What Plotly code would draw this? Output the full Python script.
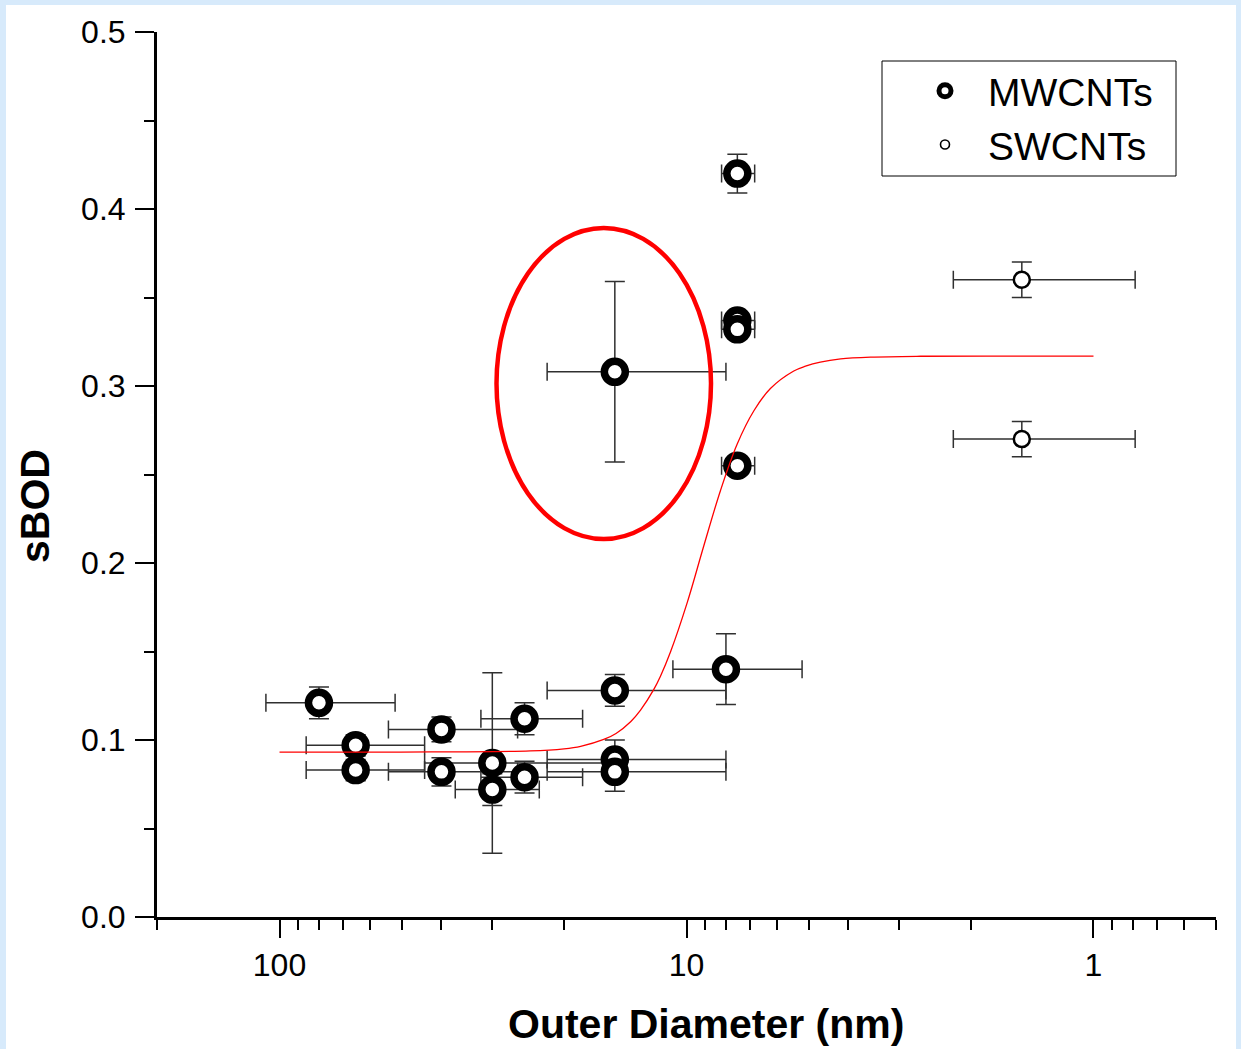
import math
import plotly.graph_objects as go

# ---------------- data ----------------
mw_diam = [80, 65, 65, 40, 40, 30, 30, 25, 25, 15, 15, 15, 15, 8, 7.5, 7.5, 7.5, 7.5]
mw_sbod = [0.121, 0.097, 0.083, 0.106, 0.082, 0.087, 0.072, 0.112, 0.079,
           0.308, 0.128, 0.089, 0.082, 0.140, 0.420, 0.337, 0.332, 0.255]
mw_diam_err = [28, 21, 21, 14, 14, 14, 7, 7, 7, 7, 7, 7, 7, 2.8, 0.7, 0.7, 0.7, 0.7]
mw_sbod_err = [0.009, 0.006, 0.006, 0.007, 0.008, 0.051, 0.009, 0.009, 0.009,
               0.051, 0.009, 0.011, 0.011, 0.020, 0.011, 0.004, 0.004, 0.004]

sw_diam = [1.5, 1.5]
sw_sbod = [0.36, 0.27]
sw_diam_err = [0.71, 0.71]
sw_sbod_err = [0.01, 0.01]

fit_diam = [100, 50.4, 24.2, 20.0, 18.2, 15.97, 14.9, 13.7, 12.97, 12.03, 11.58, 10.95,
            9.96, 9.07, 8.25, 7.51, 6.83, 6.22, 5.45, 5.10, 4.69, 4.18, 3.53, 2.66, 1.69, 1.0]
fit_sbod = [0.0932, 0.0932, 0.0938, 0.0950, 0.0964, 0.1003, 0.1037, 0.1105, 0.1169, 0.1286,
            0.1362, 0.1497, 0.1776, 0.2096, 0.2410, 0.2671, 0.2860, 0.2986, 0.3085, 0.3112,
            0.3135, 0.3153, 0.3163, 0.3168, 0.3169, 0.3169]

x_tick_vals = [100, 10, 1]
x_tick_text = ["100", "10", "1"]
y_tick_vals = [0.0, 0.1, 0.2, 0.3, 0.4, 0.5]
y_tick_text = ["0.0", "0.1", "0.2", "0.3", "0.4", "0.5"]

series_names = ["MWCNTs", "SWCNTs"]
x_title = "Outer Diameter (nm)"
y_title = "sBOD"

# ---------------- figure ----------------
FONT = "Liberation Sans, Arial, sans-serif"
W, H = 1241, 1049
ML, MR, MT, MB = 157, 25, 32, 132
PW, PH = W - ML - MR, H - MT - MB

def px2paper_x(px):
    return (px - ML) / PW

def px2paper_y(py):
    return (H - MB - py) / PH

err_col = "#303030"

fig = go.Figure()

fig.add_trace(go.Scatter(
    x=mw_diam, y=mw_sbod, mode="markers", name=series_names[0], showlegend=False,
    marker=dict(symbol="circle", size=21, color="white", line=dict(color="black", width=7.5)),
    error_x=dict(type="data", array=mw_diam_err, color=err_col, thickness=1.5, width=9),
    error_y=dict(type="data", array=mw_sbod_err, color=err_col, thickness=1.5, width=10),
))

fig.add_trace(go.Scatter(
    x=sw_diam, y=sw_sbod, mode="markers", name=series_names[1], showlegend=False,
    marker=dict(symbol="circle", size=16, color="white", line=dict(color="black", width=2.5)),
    error_x=dict(type="data", array=sw_diam_err, color=err_col, thickness=1.5, width=9),
    error_y=dict(type="data", array=sw_sbod_err, color=err_col, thickness=1.5, width=10),
))

fig.add_trace(go.Scatter(
    x=fit_diam, y=fit_sbod, mode="lines", showlegend=False,
    line=dict(color="#ff0000", width=1.3, shape="spline", smoothing=1.0),
    hoverinfo="skip",
))

# legend entries (marker style only)
fig.add_trace(go.Scatter(
    x=[None], y=[None], mode="markers", name=series_names[0],
    marker=dict(symbol="circle", size=12, color="white", line=dict(color="black", width=6)),
))
fig.add_trace(go.Scatter(
    x=[None], y=[None], mode="markers", name=series_names[1],
    marker=dict(symbol="circle", size=9, color="white", line=dict(color="black", width=1.6)),
))

# highlight ellipse around the marked point
fig.add_shape(type="circle", xref="paper", yref="paper",
              x0=px2paper_x(496.5), x1=px2paper_x(711), y0=px2paper_y(539), y1=px2paper_y(228),
              line=dict(color="#ff0000", width=4.5), layer="above")

# legend frame
fig.add_shape(type="rect", xref="paper", yref="paper", layer="above",
              x0=px2paper_x(882), x1=px2paper_x(1176), y0=px2paper_y(176), y1=px2paper_y(61),
              line=dict(color="black", width=1), fillcolor="rgba(0,0,0,0)")

# light-blue frame with white page
fig.add_shape(type="rect", xref="paper", yref="paper", layer="below",
              x0=px2paper_x(6), x1=px2paper_x(1236), y0=px2paper_y(1060), y1=px2paper_y(5),
              fillcolor="white", line=dict(width=0))

fig.update_layout(
    width=W, height=H,
    margin=dict(l=ML, r=MR, t=MT, b=MB),
    paper_bgcolor="#d7eafb", plot_bgcolor="white",
    font=dict(family=FONT, color="black", size=32),
    legend=dict(
        x=px2paper_x(883), y=px2paper_y(59), xanchor="left", yanchor="top",
        borderwidth=0, bgcolor="rgba(0,0,0,0)",
        font=dict(family=FONT, size=39, color="black"),
        itemwidth=76, indentation=19, tracegroupgap=0,
    ),
)

fig.update_xaxes(
    type="log", autorange=False, range=[math.log10(200), math.log10(0.5)],
    tickmode="array", tickvals=x_tick_vals, ticktext=x_tick_text,
    ticks="outside", ticklen=18, tickwidth=2, tickcolor="black",
    tickfont=dict(size=32, family=FONT), ticklabelstandoff=0,
    minor=dict(ticks="outside", ticklen=10, tickwidth=2, tickcolor="black", dtick="D1", showgrid=False),
    showline=True, linewidth=3, linecolor="black",
    showgrid=False, zeroline=False,
)
fig.update_yaxes(
    range=[0, 0.5], autorange=False,
    tickmode="array", tickvals=y_tick_vals, ticktext=y_tick_text,
    ticks="outside", ticklen=19, tickwidth=2, tickcolor="black",
    tickfont=dict(size=32, family=FONT), ticklabelstandoff=3,
    minor=dict(ticks="outside", ticklen=10, tickwidth=2, tickcolor="black", dtick=0.05, showgrid=False),
    showline=True, linewidth=3, linecolor="black",
    showgrid=False, zeroline=False,
)

fig.add_annotation(text=f"<b>{x_title}</b>", xref="paper", yref="paper",
                   x=px2paper_x(706), y=px2paper_y(1024), xanchor="center", yanchor="middle",
                   showarrow=False, font=dict(size=41, family=FONT, color="black"))
fig.add_annotation(text=f"<b>{y_title}</b>", xref="paper", yref="paper",
                   x=px2paper_x(35), y=px2paper_y(506), xanchor="center", yanchor="middle",
                   textangle=-90, showarrow=False, font=dict(size=41, family=FONT, color="black"))

fig.write_html("out.html", config={"displayModeBar": False},
               post_script="document.body.style.margin='0px';")
